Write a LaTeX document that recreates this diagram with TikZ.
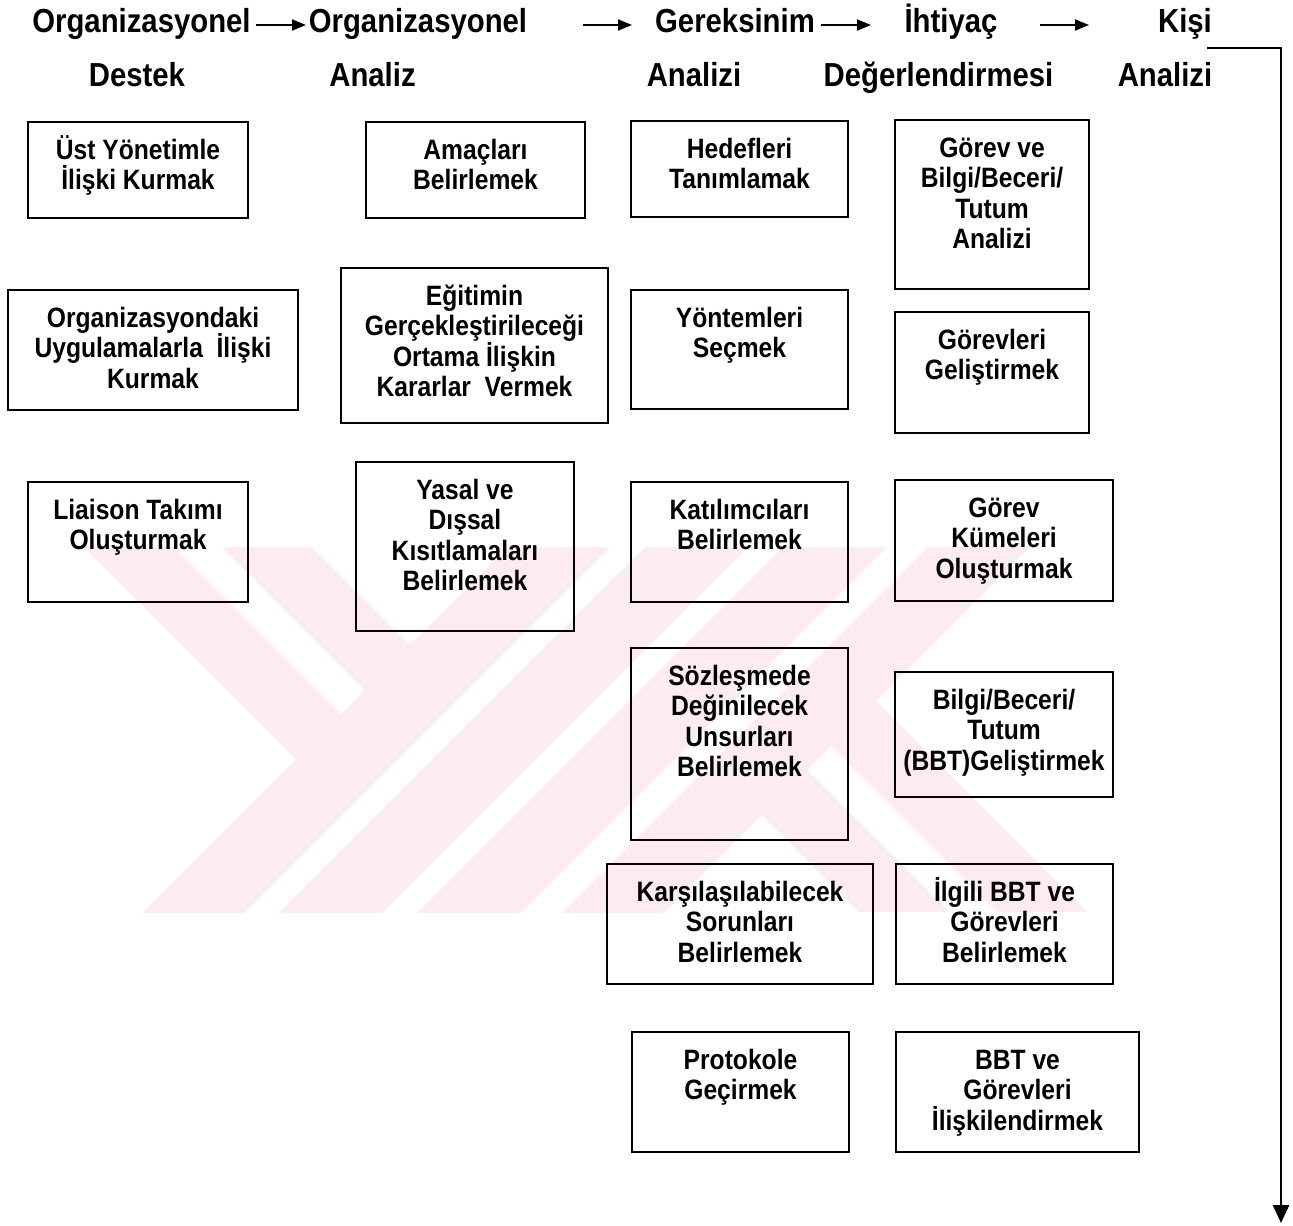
\documentclass[tikz,border=0pt]{standalone}
\usepackage{fontspec}
\setmainfont{Liberation Sans}[FakeStretch=0.88]
\usetikzlibrary{arrows.meta}
\definecolor{wmpink}{RGB}{252,236,240}

\tikzset{
  boxst/.style={draw, line width=1.8pt, inner sep=0pt},
  boxtext/.style={anchor=north, align=center, inner sep=0pt,
    font=\fontsize{28}{30.5}\selectfont\bfseries},
  head/.style={anchor=base, inner sep=0pt, font=\fontsize{33.3}{37}\selectfont\bfseries},
  flow/.style={line width=2pt, -{Triangle[length=14pt,width=11pt]}},
  mainflow/.style={line width=2.6pt, -{Triangle[length=18pt,width=16pt]}},
  wm/.style={fill=wmpink, draw=none}
}

% box: name, x1, y1, x2, y2, text (text hangs from the top edge)
\newcommand\tbox[6]{%
  \pgfmathsetmacro\tbW{#4-#2}%
  \pgfmathsetmacro\tbH{#5-#3}%
  \pgfmathsetmacro\tbX{(#2+#4)/2}%
  \pgfmathsetmacro\tbY{(#3+#5)/2}%
  \pgfmathsetmacro\tbT{#3+10}%
  \node[boxst, minimum width=\tbW pt, minimum height=\tbH pt] (#1) at (\tbX,\tbY) {};
  \node[boxtext] (#1-t) at (\tbX,\tbT) {\rule{0pt}{27pt}#6};
}
% diagonal "/" stripe of the background emblem, between x+y=#1 and x+y=#2
\newcommand\slashband[2]{%
  \fill[wm] ({#1-540},540) -- ({#2-540},540) -- ({#2-920},920) -- ({#1-920},920) -- cycle;}

\begin{document}
\lineskiplimit=-40pt
\lineskip=0pt
\begin{tikzpicture}[x=1pt,y=-1pt]
\useasboundingbox (0,0) rectangle (1293,1226);

% background emblem
\begin{scope}
  \clip (0,547) rectangle (1293,912);
  \slashband{1055}{1157}
  \slashband{1192}{1295}
  \slashband{1330}{1434}
  \slashband{1475}{1577}
  \fill[wm] (84,547) -- (174,547) -- (363.5,736.5) -- (318.5,781.5) -- cycle;
  \fill[wm] (222,547) -- (312,547) -- (432.5,667.5) -- (387.5,712.5) -- cycle;
  \fill[wm] (807.5,722.5) -- (852.5,677.5) -- (1087,912) -- (997,912) -- cycle;
  \fill[wm] (738.5,791.5) -- (783.5,746.5) -- (949,912) -- (859,912) -- cycle;
\end{scope}

% column headings
\node[head] (h1a) at (141.5,32) {Organizasyonel};
\node[head] (h1b) at (137,86) {Destek};
\node[head] (h2a) at (418,32) {Organizasyonel};
\node[head] (h2b) at (372.5,86) {Analiz};
\node[head] (h3a) at (735,32) {Gereksinim};
\node[head] (h3b) at (694,86) {Analizi};
\node[head] (h4a) at (951,32) {İhtiyaç};
\node[head] (h4b) at (938.5,86) {Değerlendirmesi};
\node[head] (h5a) at (1185,32) {Kişi};
\node[head] (h5b) at (1165,86) {Analizi};

\coordinate (a1s) at (256,25);  \coordinate (a1e) at (306,25);
\coordinate (a2s) at (583,25);  \coordinate (a2e) at (632,25);
\coordinate (a3s) at (821,25);  \coordinate (a3e) at (871,25);
\coordinate (a4s) at (1040,25); \coordinate (a4e) at (1089,25);
\draw[flow] (a1s) -- (a1e);
\draw[flow] (a2s) -- (a2e);
\draw[flow] (a3s) -- (a3e);
\draw[flow] (a4s) -- (a4e);

\coordinate (ms) at (1207,48);
\coordinate (mc) at (1281,48);
\coordinate (me) at (1281,1223);
\draw[mainflow] (ms) -- (mc) -- (me);

% column 1
\tbox{c1a}{28}{122}{248}{218}{Üst Yönetimle\\İlişki Kurmak}
\tbox{c1b}{8}{290}{298}{410}{Organizasyondaki\\Uygulamalarla\ \ İlişki\\Kurmak}
\tbox{c1c}{28}{482}{248}{602}{Liaison Takımı\\Oluşturmak}
% column 2
\tbox{c2a}{366}{122}{585}{218}{Amaçları\\Belirlemek}
\tbox{c2b}{341}{268}{608}{423}{Eğitimin\\Gerçekleştirileceği\\Ortama İlişkin\\Kararlar\ \ Vermek}
\tbox{c2c}{356}{462}{574}{631}{Yasal ve\\Dışsal\\Kısıtlamaları\\Belirlemek}
% column 3
\tbox{c3a}{631}{121}{848}{217}{Hedefleri\\Tanımlamak}
\tbox{c3b}{631}{290}{848}{409}{Yöntemleri\\Seçmek}
\tbox{c3c}{631}{482}{848}{602}{Katılımcıları\\Belirlemek}
\tbox{c3d}{631}{648}{848}{840}{Sözleşmede\\Değinilecek\\Unsurları\\Belirlemek}
\tbox{c3e}{607}{864}{873}{984}{Karşılaşılabilecek\\Sorunları\\Belirlemek}
\tbox{c3f}{632}{1032}{849}{1152}{Protokole\\Geçirmek}
% column 4
\tbox{c4a}{895}{120}{1089}{289}{Görev ve\\Bilgi/Beceri/\\Tutum\\Analizi}
\tbox{c4b}{895}{312}{1089}{433}{Görevleri\\Geliştirmek}
\tbox{c4c}{895}{480}{1113}{601}{Görev\\Kümeleri\\Oluşturmak}
\tbox{c4d}{895}{672}{1113}{797}{Bilgi/Beceri/\\Tutum\\(BBT)Geliştirmek}
\tbox{c4e}{896}{864}{1113}{984}{İlgili BBT ve\\Görevleri\\Belirlemek}
\tbox{c4f}{896}{1032}{1139}{1152}{BBT ve\\Görevleri\\İlişkilendirmek}
\end{tikzpicture}
\end{document}
